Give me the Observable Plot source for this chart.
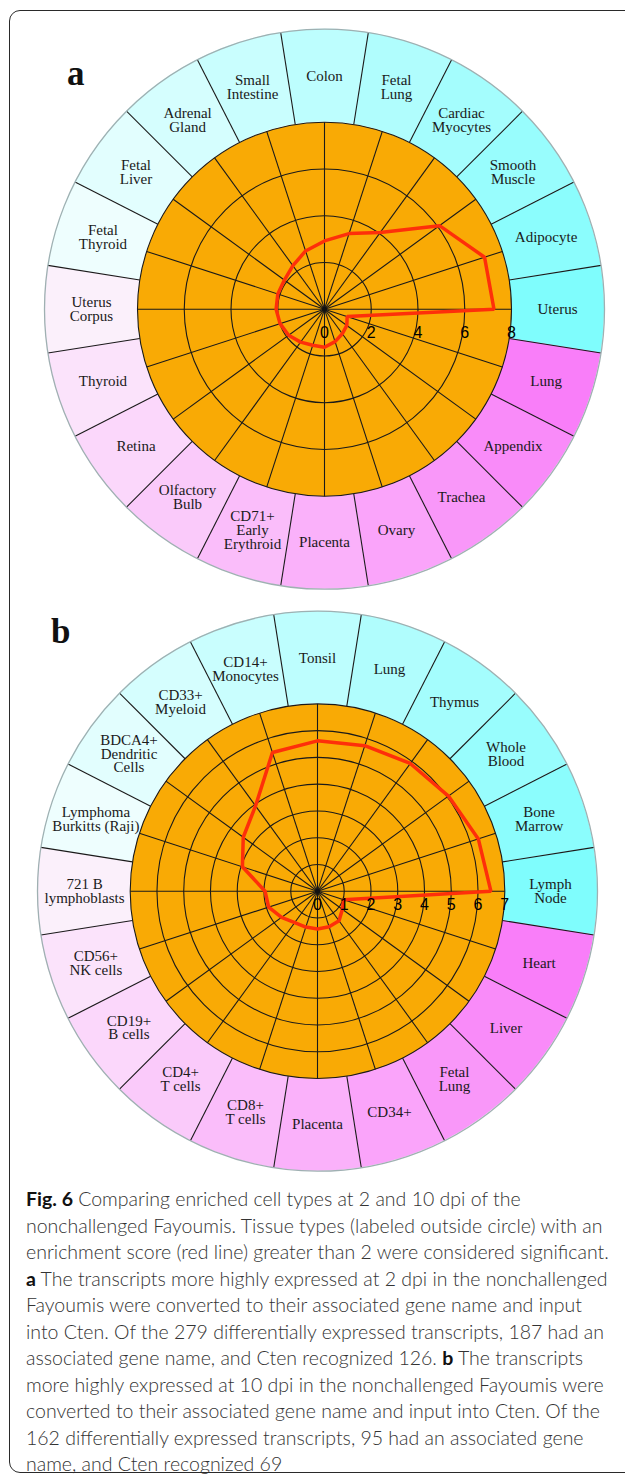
<!DOCTYPE html>
<html>
<head>
<meta charset="utf-8">
<script src="https://cdn.jsdelivr.net/npm/d3@7"></script>
<script src="https://cdn.jsdelivr.net/npm/@observablehq/plot@0.6"></script>
<style>
html,body{margin:0;padding:0;background:#fff;}
body{width:625px;height:1483px;position:relative;overflow:hidden;}
.panel{position:absolute;left:0;}
#frame{position:absolute;left:9px;top:10px;width:680px;height:1463px;border:1.5px solid #2a2a2a;border-radius:11px;box-sizing:border-box;pointer-events:none;z-index:5;}
.letter{position:absolute;font-family:"Liberation Serif","Times New Roman",serif;font-weight:bold;font-size:35px;line-height:1;color:#111;z-index:4;}
#caption{position:absolute;left:26px;top:1186px;font-family:Lato,"Open Sans",sans-serif;font-weight:300;font-size:19.5px;line-height:26.5px;color:#333;white-space:pre;z-index:4;}
#caption div{height:26.5px;}
#caption b{font-weight:700;color:#111;}
</style>
</head>
<body>
<div id="pa" class="panel" style="top:0px"></div>
<div id="pb" class="panel" style="top:595px"></div>
<div class="letter" style="left:67px;top:56px">a</div>
<div class="letter" style="left:51px;top:614px">b</div>
<div id="caption"></div>
<div id="frame"></div>
<script>
// ---- Data: panel a (2 dpi), categories counter-clockwise starting at 3 o'clock
const catsA = ["Uterus","Adipocyte","Smooth\nMuscle","Cardiac\nMyocytes","Fetal\nLung","Colon","Small\nIntestine","Adrenal\nGland","Fetal\nLiver","Fetal\nThyroid","Uterus\nCorpus","Thyroid","Retina","Olfactory\nBulb","CD71+\nEarly\nErythroid","Placenta","Ovary","Trachea","Appendix","Lung"];
const scoresA = [7.25,7.2,6.08,4.05,3.4,2.92,2.62,2.3,2.12,2.1,2.07,2.0,1.9,1.74,1.62,1.63,1.46,1.3,1.18,1.02];
const ticksA = [0,2,4,6,8];

// ---- Data: panel b (10 dpi)
const catsB = ["Lymph\nNode","Bone\nMarrow","Whole\nBlood","Thymus","Lung","Tonsil","CD14+\nMonocytes","CD33+\nMyeloid","BDCA4+\nDendritic\nCells","Lymphoma\nBurkitts (Raji)","721 B\nlymphoblasts","CD56+\nNK cells","CD19+\nB cells","CD4+\nT cells","CD8+\nT cells","Placenta","CD34+","Fetal\nLung","Liver","Heart"];
const scoresB = [6.48,6.32,6.05,5.9,5.72,5.62,5.45,3.94,3.43,2.95,1.96,1.92,1.66,1.45,1.41,1.41,1.4,1.37,1.15,1.03];
const ticksB = [0,1,2,3,4,5,6,7];

// ---- Caption lines: [bold prefix, text, bold middle, text]
const captionLines = [
  ["Fig. 6", " Comparing enriched cell types at 2 and 10 dpi of the"],
  ["", "nonchallenged Fayoumis. Tissue types (labeled outside circle) with an"],
  ["", "enrichment score (red line) greater than 2 were considered significant."],
  ["a", " The transcripts more highly expressed at 2 dpi in the nonchallenged"],
  ["", "Fayoumis were converted to their associated gene name and input"],
  ["", "into Cten. Of the 279 differentially expressed transcripts, 187 had an"],
  ["", "associated gene name, and Cten recognized 126. ", "b", " The transcripts"],
  ["", "more highly expressed at 10 dpi in the nonchallenged Fayoumis were"],
  ["", "converted to their associated gene name and input into Cten. Of the"],
  ["", "162 differentially expressed transcripts, 95 had an associated gene"],
  ["", "name, and Cten recognized 69"]
];

// ---- Styles
const ORANGE = "#f9aa05";
const RED = "#fe2f0a";
const cyanSide = d3.interpolateRgb("#7ffdfd", "#eefefe");
const pinkSide = d3.interpolateRgb("#fbf0fb", "#f97ef9");
const cellColor = i => i < 10 ? cyanSide(i / 9) : pinkSide((i - 10) / 9);

function radar(el, cats, scores, ticks, o) {
  const n = cats.length;
  const max = ticks[ticks.length - 1];
  const u = o.R / max;          // pixels per score unit
  const ro = o.Ro / u;          // outer ring radius in score units
  const rl = o.Rl / u;          // label radius in score units
  const step = 2 * Math.PI / n;
  const ang = i => i * step;
  const idx = d3.range(n);
  const wedge = idx.flatMap(i => d3.range(0, 19).map(k => {
    const a = ang(i) + (k - 9) * step / 18;
    return {i, xo: ro * Math.cos(a), yo: ro * Math.sin(a), xi: max * Math.cos(a), yi: max * Math.sin(a)};
  }));
  const svg = Plot.plot({
    width: o.W, height: o.H, margin: 0,
    style: {background: "transparent", overflow: "visible"},
    x: {domain: [-o.cx / u, (o.W - o.cx) / u], range: [0, o.W], axis: null},
    y: {domain: [o.cy / u, (o.cy - o.H) / u], range: [0, o.H], axis: null},
    r: {type: "linear", domain: [0, max], range: [0, o.R]},
    color: {type: "identity"},
    marks: [
      Plot.area(wedge, {x1: "xo", y1: "yo", x2: "xi", y2: "yi", z: "i", fill: d => cellColor(d.i)}),
      Plot.link(idx, {
        x1: i => max * Math.cos(ang(i) + step / 2), y1: i => max * Math.sin(ang(i) + step / 2),
        x2: i => ro * Math.cos(ang(i) + step / 2), y2: i => ro * Math.sin(ang(i) + step / 2),
        stroke: "#1a1a1a", strokeWidth: 1.1
      }),
      Plot.dot([ro], {x: () => 0, y: () => 0, r: d => d, fill: "none", stroke: "#9fb0b2", strokeWidth: 1.3}),
      Plot.dot([max], {x: () => 0, y: () => 0, r: d => d, fill: ORANGE, stroke: "#1a1a1a", strokeWidth: 1.1}),
      Plot.dot(ticks.filter(t => t > 0 && t < max), {x: () => 0, y: () => 0, r: d => d, fill: "none", stroke: "#1a1a1a", strokeWidth: 1.1}),
      Plot.link(idx, {
        x1: () => 0, y1: () => 0,
        x2: i => max * Math.cos(ang(i)), y2: i => max * Math.sin(ang(i)),
        stroke: "#1a1a1a", strokeWidth: 1.1
      }),
      Plot.dot([0], {x: () => 0, y: () => 0, r: 2.5, fill: "#111"}),
      Plot.line(idx, {
        x: i => scores[i] * Math.cos(ang(i)), y: i => scores[i] * Math.sin(ang(i)),
        curve: "linear-closed", stroke: RED, strokeWidth: 3.5, strokeLinejoin: "miter"
      }),
      Plot.text(ticks, {x: d => d, y: () => 0, text: d => String(d), dy: o.tickDy,
        fontSize: 16, fontFamily: "Liberation Sans, Arial, sans-serif", fill: "#000"}),
      Plot.text(idx, {
        x: i => rl * Math.cos(ang(i)), y: i => rl * Math.sin(ang(i)), text: i => cats[i],
        fontFamily: "Liberation Serif, Times New Roman, serif", fontSize: 15, lineHeight: 0.92, fill: "#1a1a1a"
      })
    ]
  });
  el.appendChild(svg);
}

radar(document.getElementById("pa"), catsA, scoresA, ticksA,
  {W: 625, H: 595, cx: 324, cy: 308.7, R: 187, Ro: 280, Rl: 233, tickDy: 24});
radar(document.getElementById("pb"), catsB, scoresB, ticksB,
  {W: 625, H: 590, cx: 317, cy: 295.7, R: 187.3, Ro: 280, Rl: 233, tickDy: 14});

// caption, one block per line so no text box spans several lines
const cap = document.getElementById("caption");
for (const parts of captionLines) {
  const line = document.createElement("div");
  parts.forEach((p, k) => {
    if (!p) return;
    const s = document.createElement(k % 2 === 0 ? "b" : "span");
    s.textContent = p;
    line.appendChild(s);
  });
  cap.appendChild(line);
}
</script>
</body>
</html>
